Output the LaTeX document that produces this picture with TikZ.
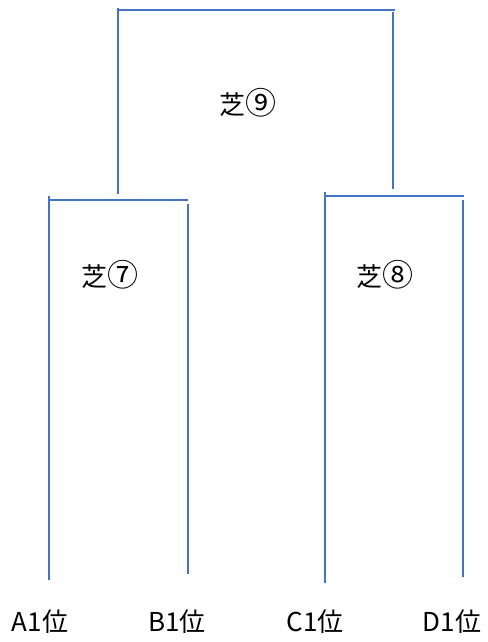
\documentclass[tikz,border=0pt]{standalone}
\usepackage{fontspec}
\setmainfont{Noto Sans CJK JP}
\definecolor{linkblue}{RGB}{68,114,196}
\newcommand{\cdig}[1]{{\fontsize{31}{31}\selectfont #1}}
\begin{document}
\begin{tikzpicture}[x=1pt,y=-1pt,
  link/.style={draw=linkblue,line width=1.2pt},
  lab/.style={font=\fontsize{26}{28}\selectfont,inner sep=0pt,anchor=center}]
\useasboundingbox (0,0) rectangle (487,642);
% leaves
\node[lab] (A) at (40,622) {A1位};
\node[lab] (B) at (177,622) {B1位};
\node[lab] (C) at (315,622) {C1位};
\node[lab] (D) at (452,622) {D1位};
% cluster labels
\node[lab] (n9) at (248,103) {芝\cdig{⑨}};
\node[lab] (n7) at (110,275) {芝\cdig{⑦}};
\node[lab] (n8) at (385,275) {芝\cdig{⑧}};
% coordinates
\coordinate (a1) at (49,580); \coordinate (a2) at (49,196);
\coordinate (b1) at (188,574); \coordinate (b2) at (188,204);
\coordinate (l1) at (49,200); \coordinate (l2) at (188,200);
\coordinate (c1) at (325,583); \coordinate (c2) at (325,192);
\coordinate (d1) at (463,577); \coordinate (d2) at (463,200);
\coordinate (r1) at (325,196); \coordinate (r2) at (464,196);
\coordinate (t1) at (118,194); \coordinate (t2) at (118,8);
\coordinate (h1) at (118,10); \coordinate (h2) at (395,10);
\coordinate (u1) at (393,12); \coordinate (u2) at (393,189);
\draw[link] (a1) -- (a2);
\draw[link] (b1) -- (b2);
\draw[link] (l1) -- (l2);
\draw[link] (c1) -- (c2);
\draw[link] (d1) -- (d2);
\draw[link] (r1) -- (r2);
\draw[link] (t1) -- (t2);
\draw[link] (h1) -- (h2);
\draw[link] (u1) -- (u2);
\end{tikzpicture}
\end{document}
